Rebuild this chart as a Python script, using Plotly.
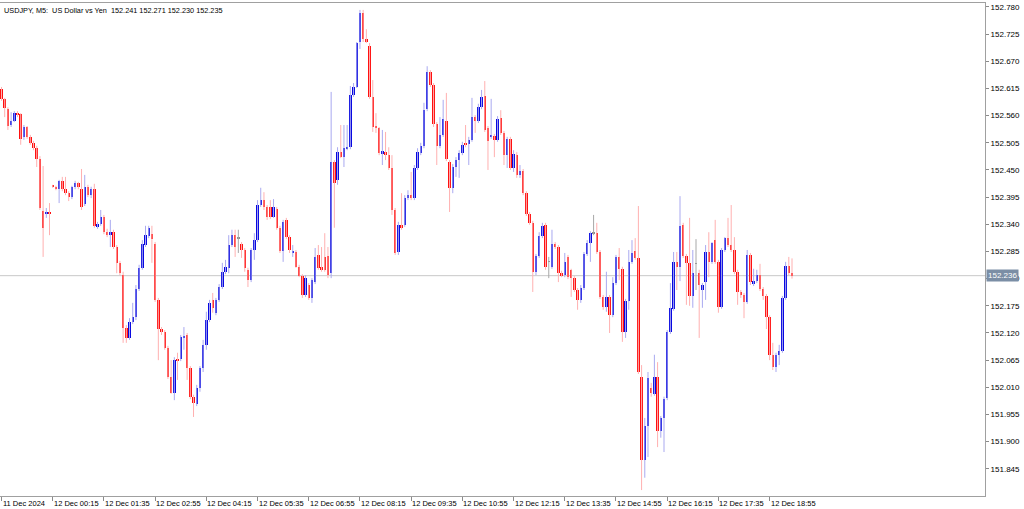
import plotly.graph_objects as go

# ---------------- data ----------------
symbol_title = "USDJPY, M5:\u00a0\u00a0US Dollar vs Yen\u00a0\u00a0152.241 152.271 152.230 152.235"
last_price = 152.236

open_ = [
    152.614, 152.594, 152.573, 152.541, 152.549, 152.565, 152.563, 152.517, 152.537, 152.517,
    152.505, 152.494, 152.472, 152.367, 152.361, 152.363, 152.418, 152.416, 152.411, 152.428,
    152.411, 152.403, 152.395, 152.416, 152.424, 152.411, 152.381, 152.416, 152.399, 152.411,
    152.335, 152.341, 152.355, 152.324, 152.318, 152.324, 152.294, 152.262, 152.237, 152.130,
    152.110, 152.142, 152.152, 152.209, 152.252, 152.298, 152.316, 152.320, 152.300, 152.187,
    152.128, 152.122, 152.090, 152.031, 151.999, 152.067, 152.067, 152.110, 152.116, 152.049,
    151.991, 151.976, 152.009, 152.049, 152.096, 152.146, 152.187, 152.161, 152.187, 152.213,
    152.244, 152.252, 152.298, 152.318, 152.312, 152.300, 152.288, 152.248, 152.227, 152.288,
    152.308, 152.379, 152.389, 152.375, 152.375, 152.355, 152.371, 152.333, 152.286, 152.349,
    152.314, 152.282, 152.284, 152.254, 152.235, 152.197, 152.217, 152.191, 152.223, 152.278,
    152.254, 152.274, 152.276, 152.241, 152.466, 152.430, 152.486, 152.476, 152.494, 152.496,
    152.602, 152.618, 152.709, 152.768, 152.715, 152.701, 152.598, 152.539, 152.535, 152.484,
    152.486, 152.480, 152.454, 152.369, 152.284, 152.339, 152.339, 152.393, 152.399, 152.393,
    152.454, 152.484, 152.499, 152.573, 152.648, 152.622, 152.543, 152.499, 152.521, 152.549,
    152.466, 152.414, 152.456, 152.470, 152.484, 152.505, 152.503, 152.511, 152.557, 152.549,
    152.577, 152.600, 152.535, 152.517, 152.519, 152.511, 152.555, 152.525, 152.480, 152.513,
    152.454, 152.480, 152.440, 152.448, 152.403, 152.361, 152.343, 152.244, 152.276, 152.316,
    152.339, 152.264, 152.254, 152.300, 152.294, 152.241, 152.237, 152.274, 152.248, 152.231,
    152.207, 152.187, 152.211, 152.280, 152.302, 152.322, 152.322, 152.284, 152.193, 152.173,
    152.193, 152.156, 152.221, 152.274, 152.250, 152.122, 152.185, 152.264, 152.286, 152.272,
    152.031, 151.863, 151.932, 152.009, 151.997, 152.031, 151.922, 151.948, 151.989, 152.122,
    152.169, 152.264, 152.254, 152.339, 152.276, 152.262, 152.195, 152.260, 152.241, 152.207,
    152.223, 152.284, 152.264, 152.308, 152.264, 152.173, 152.288, 152.312, 152.298, 152.288,
    152.244, 152.203, 152.197, 152.183, 152.278, 152.219, 152.225, 152.237, 152.209, 152.195,
    152.152, 152.076, 152.051, 152.076, 152.084, 152.191, 152.256, 152.241,
]

high = [
    152.618, 152.596, 152.577, 152.567, 152.569, 152.569, 152.565, 152.541, 152.539, 152.521,
    152.509, 152.499, 152.478, 152.458, 152.373, 152.383, 152.420, 152.418, 152.430, 152.436,
    152.436, 152.407, 152.418, 152.428, 152.426, 152.452, 152.440, 152.420, 152.416, 152.422,
    152.345, 152.369, 152.359, 152.331, 152.349, 152.329, 152.298, 152.266, 152.244, 152.136,
    152.150, 152.181, 152.217, 152.258, 152.308, 152.337, 152.337, 152.337, 152.304, 152.191,
    152.132, 152.126, 152.094, 152.065, 152.071, 152.080, 152.116, 152.132, 152.120, 152.053,
    151.995, 152.015, 152.053, 152.106, 152.163, 152.187, 152.201, 152.191, 152.219, 152.262,
    152.268, 152.318, 152.329, 152.329, 152.329, 152.304, 152.292, 152.252, 152.292, 152.322,
    152.389, 152.414, 152.405, 152.379, 152.389, 152.391, 152.375, 152.337, 152.349, 152.353,
    152.318, 152.298, 152.288, 152.258, 152.239, 152.237, 152.221, 152.231, 152.292, 152.298,
    152.294, 152.322, 152.294, 152.608, 152.470, 152.496, 152.541, 152.541, 152.541, 152.620,
    152.626, 152.709, 152.774, 152.774, 152.735, 152.707, 152.632, 152.565, 152.537, 152.531,
    152.527, 152.496, 152.480, 152.373, 152.345, 152.403, 152.399, 152.409, 152.446, 152.460,
    152.494, 152.505, 152.586, 152.660, 152.652, 152.626, 152.547, 152.557, 152.592, 152.606,
    152.470, 152.462, 152.476, 152.490, 152.507, 152.541, 152.517, 152.596, 152.561, 152.584,
    152.612, 152.630, 152.539, 152.594, 152.523, 152.559, 152.571, 152.529, 152.517, 152.517,
    152.490, 152.486, 152.460, 152.452, 152.407, 152.365, 152.347, 152.280, 152.324, 152.343,
    152.343, 152.274, 152.329, 152.304, 152.298, 152.246, 152.282, 152.278, 152.250, 152.235,
    152.211, 152.217, 152.284, 152.308, 152.326, 152.359, 152.343, 152.288, 152.197, 152.244,
    152.197, 152.233, 152.278, 152.292, 152.254, 152.189, 152.288, 152.308, 152.312, 152.377,
    152.055, 151.948, 152.041, 152.019, 152.076, 152.061, 151.952, 151.991, 152.126, 152.221,
    152.284, 152.284, 152.397, 152.343, 152.280, 152.353, 152.288, 152.310, 152.248, 152.221,
    152.298, 152.324, 152.304, 152.349, 152.268, 152.292, 152.314, 152.353, 152.379, 152.314,
    152.248, 152.207, 152.201, 152.288, 152.282, 152.250, 152.248, 152.260, 152.213, 152.199,
    152.156, 152.100, 152.080, 152.096, 152.195, 152.264, 152.274, 152.271,
]

low = [
    152.590, 152.557, 152.531, 152.537, 152.547, 152.557, 152.501, 152.511, 152.513, 152.501,
    152.490, 152.456, 152.369, 152.274, 152.353, 152.318, 152.414, 152.409, 152.383, 152.407,
    152.399, 152.387, 152.391, 152.411, 152.411, 152.369, 152.377, 152.395, 152.393, 152.333,
    152.331, 152.337, 152.320, 152.314, 152.294, 152.290, 152.241, 152.237, 152.100, 152.100,
    152.106, 152.138, 152.146, 152.205, 152.248, 152.294, 152.312, 152.262, 152.183, 152.065,
    152.116, 152.086, 152.027, 151.997, 151.984, 152.025, 152.063, 152.086, 152.025, 151.986,
    151.950, 151.972, 152.001, 152.041, 152.086, 152.142, 152.161, 152.156, 152.183, 152.209,
    152.239, 152.241, 152.294, 152.274, 152.282, 152.272, 152.244, 152.213, 152.223, 152.268,
    152.304, 152.375, 152.369, 152.349, 152.351, 152.353, 152.329, 152.282, 152.264, 152.310,
    152.282, 152.274, 152.252, 152.233, 152.191, 152.193, 152.187, 152.181, 152.219, 152.248,
    152.244, 152.244, 152.231, 152.231, 152.333, 152.420, 152.474, 152.456, 152.490, 152.492,
    152.598, 152.616, 152.695, 152.709, 152.707, 152.594, 152.527, 152.525, 152.480, 152.460,
    152.470, 152.450, 152.359, 152.278, 152.278, 152.329, 152.335, 152.389, 152.389, 152.389,
    152.450, 152.480, 152.494, 152.569, 152.618, 152.537, 152.460, 152.494, 152.517, 152.468,
    152.365, 152.403, 152.436, 152.434, 152.480, 152.496, 152.460, 152.507, 152.525, 152.545,
    152.573, 152.527, 152.450, 152.513, 152.476, 152.507, 152.521, 152.460, 152.454, 152.450,
    152.446, 152.434, 152.434, 152.399, 152.357, 152.339, 152.203, 152.237, 152.272, 152.312,
    152.248, 152.231, 152.250, 152.290, 152.223, 152.233, 152.233, 152.229, 152.193, 152.203,
    152.167, 152.181, 152.207, 152.276, 152.264, 152.318, 152.280, 152.189, 152.167, 152.163,
    152.120, 152.152, 152.217, 152.227, 152.102, 152.110, 152.167, 152.260, 152.268, 152.037,
    151.802, 151.827, 151.869, 151.991, 151.993, 151.889, 151.908, 151.879, 151.984, 152.118,
    152.165, 152.207, 152.225, 152.272, 152.177, 152.175, 152.171, 152.207, 152.110, 152.171,
    152.187, 152.233, 152.260, 152.260, 152.161, 152.169, 152.284, 152.294, 152.284, 152.239,
    152.177, 152.191, 152.150, 152.179, 152.217, 152.215, 152.221, 152.205, 152.187, 152.128,
    152.065, 152.045, 152.041, 152.055, 152.080, 152.187, 152.237, 152.230,
]

close = [
    152.594, 152.575, 152.539, 152.549, 152.565, 152.563, 152.513, 152.537, 152.517, 152.505,
    152.494, 152.472, 152.373, 152.333, 152.365, 152.361, 152.416, 152.411, 152.428, 152.411,
    152.403, 152.395, 152.416, 152.424, 152.416, 152.375, 152.416, 152.399, 152.411, 152.337,
    152.341, 152.355, 152.324, 152.318, 152.324, 152.294, 152.262, 152.241, 152.130, 152.110,
    152.142, 152.152, 152.209, 152.252, 152.300, 152.318, 152.333, 152.310, 152.187, 152.128,
    152.122, 152.090, 152.031, 151.999, 152.065, 152.065, 152.112, 152.112, 152.049, 151.991,
    151.978, 152.009, 152.049, 152.096, 152.146, 152.181, 152.171, 152.187, 152.213, 152.244,
    152.254, 152.298, 152.318, 152.294, 152.312, 152.288, 152.252, 152.227, 152.288, 152.308,
    152.379, 152.389, 152.375, 152.355, 152.355, 152.375, 152.333, 152.286, 152.345, 152.314,
    152.288, 152.284, 152.254, 152.235, 152.197, 152.231, 152.191, 152.227, 152.274, 152.252,
    152.248, 152.248, 152.237, 152.466, 152.424, 152.486, 152.476, 152.494, 152.496, 152.602,
    152.618, 152.707, 152.768, 152.715, 152.711, 152.598, 152.537, 152.535, 152.484, 152.488,
    152.480, 152.454, 152.369, 152.282, 152.339, 152.333, 152.393, 152.399, 152.393, 152.454,
    152.486, 152.499, 152.571, 152.648, 152.622, 152.543, 152.499, 152.521, 152.553, 152.472,
    152.414, 152.456, 152.470, 152.484, 152.501, 152.501, 152.511, 152.557, 152.549, 152.577,
    152.598, 152.531, 152.509, 152.519, 152.511, 152.553, 152.525, 152.480, 152.513, 152.454,
    152.482, 152.440, 152.448, 152.403, 152.361, 152.343, 152.244, 152.276, 152.316, 152.337,
    152.254, 152.264, 152.300, 152.294, 152.241, 152.237, 152.264, 152.233, 152.231, 152.207,
    152.187, 152.211, 152.280, 152.302, 152.322, 152.322, 152.284, 152.193, 152.173, 152.193,
    152.156, 152.221, 152.274, 152.250, 152.122, 152.185, 152.264, 152.282, 152.272, 152.041,
    151.863, 151.932, 152.029, 151.999, 152.031, 151.922, 151.948, 151.986, 152.122, 152.171,
    152.264, 152.254, 152.337, 152.276, 152.262, 152.195, 152.241, 152.260, 152.217, 152.217,
    152.284, 152.264, 152.302, 152.264, 152.173, 152.288, 152.312, 152.298, 152.288, 152.244,
    152.203, 152.197, 152.183, 152.278, 152.223, 152.225, 152.237, 152.209, 152.195, 152.152,
    152.076, 152.051, 152.076, 152.084, 152.191, 152.256, 152.241, 152.235,
]

tick_bars = [0, 16, 32, 48, 64, 80, 96, 112, 128, 144, 160, 176, 192, 208, 224, 240]
tick_labels = ["11 Dec 2024", "12 Dec 00:15", "12 Dec 01:35", "12 Dec 02:55",
               "12 Dec 04:15", "12 Dec 05:35", "12 Dec 06:55", "12 Dec 08:15",
               "12 Dec 09:35", "12 Dec 10:55", "12 Dec 12:15", "12 Dec 13:35",
               "12 Dec 14:55", "12 Dec 16:15", "12 Dec 17:35", "12 Dec 18:55"]
price_ticks = [151.845, 151.900, 151.955, 152.010, 152.065, 152.120, 152.175, 152.230,
               152.285, 152.340, 152.395, 152.450, 152.505, 152.560, 152.615, 152.670,
               152.725, 152.780]

# ---------------- styles ----------------
UP_BODY, DN_BODY, FLAT_BODY = "#0808e0", "#ff1010", "#8c8c8c"
UP_WICK, DN_WICK, FLAT_WICK = "#a9a9f0", "#ffb0b0", "#a8a8a8"
FONT = "Liberation Sans"

n = len(open_)
bars = list(range(n))

fig = go.Figure()

# wicks
for kind, col in (("up", UP_WICK), ("dn", DN_WICK), ("flat", FLAT_WICK)):
    xs, ys = [], []
    for i in bars:
        k = "up" if close[i] > open_[i] else ("dn" if close[i] < open_[i] else "flat")
        if k != kind:
            continue
        xs += [i, i, None]
        ys += [low[i], high[i], None]
    fig.add_trace(go.Scatter(x=xs, y=ys, mode="lines", line=dict(color=col, width=1),
                             hoverinfo="skip", showlegend=False))

# bodies
body_base = [min(o, c) for o, c in zip(open_, close)]
body_h = [max(abs(c - o), 0.0012) for o, c in zip(open_, close)]
body_col = [UP_BODY if c > o else (DN_BODY if c < o else FLAT_BODY) for o, c in zip(open_, close)]
fig.add_trace(go.Bar(x=bars, y=body_h, base=body_base, width=0.76,
                     marker=dict(color=body_col, line=dict(width=0)),
                     showlegend=False, hoverinfo="skip"))

# current price line
fig.add_shape(type="line", xref="paper", x0=0, x1=1, yref="y", y0=last_price, y1=last_price,
              line=dict(color="#c8c8c8", width=1), layer="below")

annotations = []
# x-axis labels, left aligned at their ticks
for b, lab in zip(tick_bars, tick_labels):
    annotations.append(dict(x=b, xref="x", y=0, yref="paper", yanchor="top", xanchor="left",
                            yshift=-1, xshift=-1, text=lab, showarrow=False,
                            font=dict(family=FONT, size=7.5, color="#000000")))
# title
annotations.append(dict(x=0, xref="paper", y=1, yref="paper", xanchor="left", yanchor="top",
                        xshift=2, yshift=-1, text=symbol_title, showarrow=False,
                        font=dict(family=FONT, size=7.3, color="#000000")))
# price label
annotations.append(dict(x=1, xref="paper", y=last_price, yref="y", xanchor="left", yanchor="middle",
                        xshift=1, text="%.3f" % last_price, showarrow=False,
                        bgcolor="#7b8ea5", borderpad=1,
                        font=dict(family=FONT, size=8, color="#ffffff")))

fig.update_layout(
    width=1024, height=509,
    margin=dict(l=0, r=39, t=3, b=13),
    paper_bgcolor="#ffffff", plot_bgcolor="#ffffff",
    bargap=0, showlegend=False,
    annotations=annotations,
    xaxis=dict(range=[-0.47, 307.3], tickmode="array", tickvals=tick_bars,
               showticklabels=False, ticks="outside", ticklen=4, tickcolor="#8a8a8a",
               showgrid=False, zeroline=False, showline=True, linecolor="#a0a0a0",
               linewidth=1, mirror=True, fixedrange=True),
    yaxis=dict(range=[151.790, 152.788], side="right", tickmode="array",
               tickvals=price_ticks, ticktext=["%.3f" % v for v in price_ticks],
               ticks="outside", ticklen=3, tickcolor="#8a8a8a",
               tickfont=dict(family=FONT, size=8, color="#000000"),
               showgrid=False, zeroline=False, showline=True, linecolor="#a0a0a0",
               linewidth=1, mirror=True, fixedrange=True),
)

fig.write_html("out.html", config={"displayModeBar": False},
               post_script="document.body.style.margin='0';document.body.style.overflow='hidden';")
